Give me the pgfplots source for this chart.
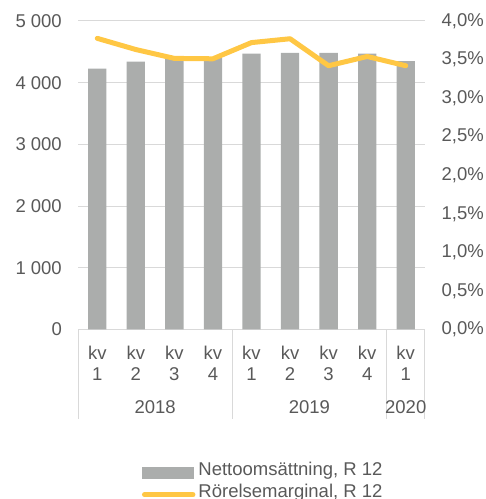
\documentclass[border=0pt]{standalone}
\usepackage{fontspec}
\setmainfont{Liberation Sans}
\usepackage{pgfplots}
\pgfplotsset{compat=1.18}
\definecolor{barcol}{RGB}{171,173,172}
\definecolor{linecol}{RGB}{255,199,68}
\definecolor{gridcol}{RGB}{217,217,217}
\definecolor{txtcol}{RGB}{89,89,89}
\newcommand{\chartfont}{\fontsize{18.5bp}{21.5bp}\selectfont}
\begin{document}
\begin{tikzpicture}
\useasboundingbox (0,0) rectangle (486bp,499bp);
\pgfplotsset{common/.style={scale only axis, width=347bp, height=308.5bp,
  at={(78bp,169.5bp)}, anchor=south west, xmin=-0.5, xmax=8.5,
  axis line style={draw=none}, major tick length=0pt,
  tick label style={font=\chartfont, text=txtcol, inner sep=0pt}}}
\begin{axis}[common, ybar, bar width=18.3bp, ymin=0, ymax=5000,
  ytick={0,1000,2000,3000,4000,5000},
  yticklabels={0,1 000,2 000,3 000,4 000,5 000},
  ymajorgrids, grid style={gridcol, line width=1bp},
  yticklabel shift=16bp,
  xtick={0,1,2,3,4,5,6,7,8},
  xticklabels={kv\\1,kv\\2,kv\\3,kv\\4,kv\\1,kv\\2,kv\\3,kv\\4,kv\\1},
  xticklabel style={align=center}, xticklabel shift=16bp,
  clip=false]
\addplot[fill=barcol, draw=none] coordinates {(0,4230) (1,4340) (2,4395) (3,4405) (4,4470) (5,4485) (6,4485) (7,4470) (8,4350)};
\draw[gridcol, line width=1bp] (axis cs:-0.5,0) -- ++(0bp,-89.5bp);
\draw[gridcol, line width=1bp] (axis cs:3.5,0) -- ++(0bp,-89.5bp);
\draw[gridcol, line width=1bp] (axis cs:7.5,0) -- ++(0bp,-89.5bp);
\draw[gridcol, line width=1bp] (axis cs:8.5,0) -- ++(0bp,-89.5bp);
\node[font=\chartfont, text=txtcol, inner sep=0pt, yshift=-78bp] at (axis cs:1.5,0) {2018};
\node[font=\chartfont, text=txtcol, inner sep=0pt, yshift=-78bp] at (axis cs:5.5,0) {2019};
\node[font=\chartfont, text=txtcol, inner sep=0pt, yshift=-78bp] at (axis cs:8,0) {2020};
\end{axis}
\begin{axis}[common, ymin=0, ymax=4,
  ytick={0,0.5,1,1.5,2,2.5,3,3.5,4},
  yticklabels={{0,0\%},{0,5\%},{1,0\%},{1,5\%},{2,0\%},{2,5\%},{3,0\%},{3,5\%},{4,0\%}},
  yticklabel pos=right, yticklabel shift=16.5bp,
  xtick=\empty,
  legend style={draw=none, fill=none, at={(0.535,-0.500)}, anchor=center,
    font=\chartfont, text=txtcol, inner sep=0pt, row sep=0pt, column sep=0pt,
    nodes={inner xsep=3bp, inner ysep=0pt, text height=14bp, text depth=8bp}},
  legend cell align=left]
\addlegendimage{legend image code/.code={\fill[barcol] (0bp,-5.5bp) rectangle (51bp,5.5bp);}}
\addlegendentry{Nettoomsättning, R 12}
\addplot[linecol, line width=5bp, line cap=round, line join=round, mark=none,
  legend image code/.code={\draw[linecol, line width=5bp, line cap=round] (2.5bp,0bp) -- (51bp,0bp);}]
  coordinates {(0,3.775) (1,3.63) (2,3.515) (3,3.51) (4,3.72) (5,3.77) (6,3.42) (7,3.54) (8,3.42)};
\addlegendentry{Rörelsemarginal, R 12}
\end{axis}
\end{tikzpicture}
\end{document}
